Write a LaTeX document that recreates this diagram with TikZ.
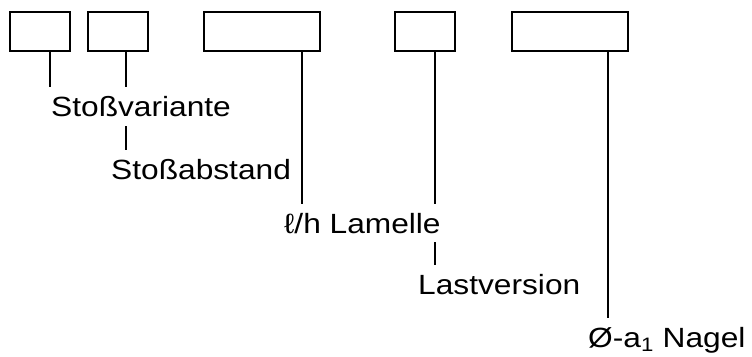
\documentclass[tikz,border=0pt]{standalone}
\usepackage{fontspec}
\setmainfont{Liberation Sans}[FakeStretch=1.14]
\begin{document}
\begin{tikzpicture}[x=1pt,y=-1pt, line width=2.4pt,
  box/.style={draw, rectangle, minimum height=39pt, inner sep=0pt},
  smallbox/.style={box, minimum width=60pt},
  widebox/.style={box, minimum width=116pt},
  lbl/.style={anchor=base west, inner xsep=0pt, inner ysep=8pt, font=\fontsize{27.8}{30}\selectfont},
  conn/.style={line width=2.4pt}]
\useasboundingbox (0,0) rectangle (752,356);
% boxes
\node[smallbox] (b1) at (40,31.5) {};
\node[smallbox] (b2) at (118,31.5) {};
\node[widebox]  (b3) at (262,31.5) {};
\node[smallbox] (b4) at (425,31.5) {};
\node[widebox]  (b5) at (570,31.5) {};
% labels
\node[lbl] (t1) at (50,116.7) {Stoßvariante};
\node[lbl] (t2) at (110,179) {Stoßabstand};
\node[lbl] (t3) at (283,233) {ℓ/h Lamelle};
\node[lbl] (t4) at (417,294) {Lastversion};
\node[lbl, inner ysep=0pt] (t5) at (587,347) {Ø-a\textsubscript{1} Nagel};
% connectors
\draw[conn] ([xshift=10pt]b1.south) -- ([xshift=10pt]b1.south |- t1.north);
\draw[conn] ([xshift=8pt]b2.south) -- ([xshift=8pt]b2.south |- t1.north);
\draw[conn] ([xshift=8pt]b2.south |- t1.south) -- ([xshift=8pt]b2.south |- t2.north);
\draw[conn] ([xshift=40pt]b3.south) -- ([xshift=40pt]b3.south |- t3.north);
\draw[conn] ([xshift=10pt]b4.south) -- ([xshift=10pt]b4.south |- t3.north);
\draw[conn] ([xshift=10pt]b4.south |- t3.south) -- ([xshift=10pt]b4.south |- t4.north);
\draw[conn] ([xshift=38pt]b5.south) -- ([xshift=38pt,yshift=8pt]b5.south |- t5.north);
\end{tikzpicture}
\end{document}
